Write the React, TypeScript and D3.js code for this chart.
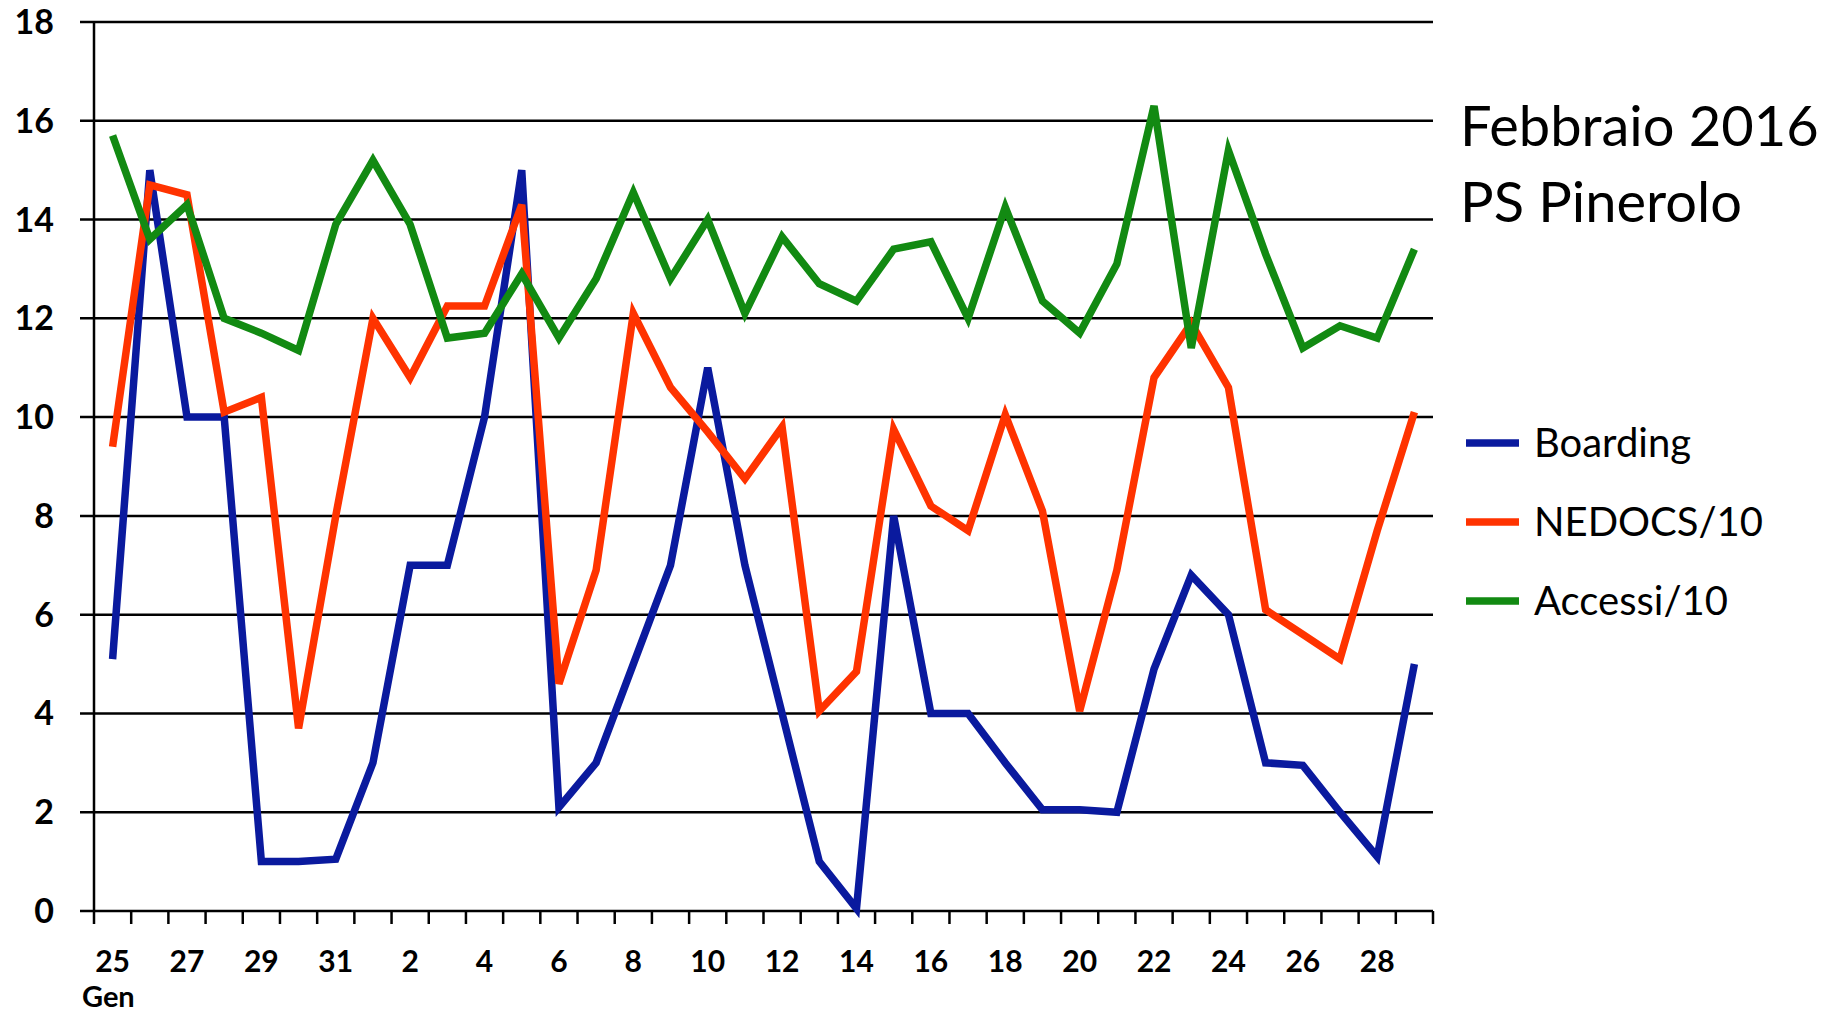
import React, { useEffect, useRef } from 'react';
import * as d3 from 'd3';

const days = ['25', '26', '27', '28', '29', '30', '31', '1', '2', '3', '4', '5', '6', '7', '8', '9', '10', '11', '12', '13', '14', '15', '16', '17', '18', '19', '20', '21', '22', '23', '24', '25', '26', '27', '28', '29'];
const boarding = [5.1, 15, 10, 10, 1, 1, 1.05, 3, 7, 7, 10, 15, 2.1, 3, 5, 7, 11, 7, 4, 1, 0.05, 8, 4, 4, 3, 2.05, 2.05, 2, 4.9, 6.8, 6, 3, 2.95, 2, 1.1, 5];
const nedocs = [9.4, 14.7, 14.5, 10.1, 10.4, 3.7, 8, 12, 10.8, 12.25, 12.25, 14.3, 4.6, 6.9, 12.1, 10.6, 9.7, 8.75, 9.8, 4.05, 4.85, 9.75, 8.2, 7.7, 10.05, 8.1, 4.05, 6.9, 10.8, 11.9, 10.6, 6.1, 5.6, 5.1, 7.7, 10.1];
const accessi = [15.7, 13.6, 14.3, 12, 11.7, 11.35, 13.9, 15.2, 13.9, 11.6, 11.7, 12.9, 11.6, 12.8, 14.55, 12.8, 14, 12.1, 13.65, 12.7, 12.35, 13.4, 13.55, 12, 14.25, 12.35, 11.7, 13.1, 16.3, 11.4, 15.4, 13.3, 11.4, 11.85, 11.6, 13.4];
const yTicks = [0, 2, 4, 6, 8, 10, 12, 14, 16, 18];

const series = [
  { name: 'Boarding', values: boarding, color: '#0a1a9e' },
  { name: 'NEDOCS/10', values: nedocs, color: '#ff3300' },
  { name: 'Accessi/10', values: accessi, color: '#128a12' },
];

const W = 1837;
const H = 1015;
const FONT = 'Lato, "Open Sans", sans-serif';

export default function App() {
  const svgRef = useRef<SVGSVGElement>(null);

  useEffect(() => {
    if (!svgRef.current) return;
    const svg = d3.select(svgRef.current);
    svg.selectAll('*').remove();

    const left = 94, right = 1433, top = 22, bottom = 911;
    const x = d3.scaleBand().domain(days.map((d, i) => String(i))).range([left, right]);
    const y = d3.scaleLinear().domain([0, 18]).range([bottom, top]);
    const cx = (i: number) => (x(String(i)) || 0) + x.bandwidth() / 2;

    // griglia orizzontale
    svg.append('g').selectAll('line').data(yTicks.filter(t => t > 0)).enter().append('line')
      .attr('x1', left - 14).attr('x2', right)
      .attr('y1', d => y(d)).attr('y2', d => y(d))
      .attr('stroke', '#000').attr('stroke-width', 2.5);

    svg.append('g').selectAll('text').data(yTicks).enter().append('text')
      .attr('x', 54).attr('y', d => Math.max(y(d) + 12, 34))
      .attr('text-anchor', 'end')
      .style('font-family', FONT).style('font-weight', 'bold').style('font-size', '34px')
      .text(d => d);

    // assi
    svg.append('line').attr('x1', left).attr('x2', left).attr('y1', top).attr('y2', bottom)
      .attr('stroke', '#000').attr('stroke-width', 2.5);
    svg.append('line').attr('x1', left - 14).attr('x2', right).attr('y1', bottom).attr('y2', bottom)
      .attr('stroke', '#000').attr('stroke-width', 2.5);
    const bounds = d3.range(days.length + 1).map(i => left + i * x.bandwidth());
    svg.append('g').selectAll('line').data(bounds).enter().append('line')
      .attr('x1', d => d).attr('x2', d => d).attr('y1', bottom).attr('y2', bottom + 13)
      .attr('stroke', '#000').attr('stroke-width', 2.5);

    svg.append('g').selectAll('text').data(days.map((d, i) => ({ d, i })).filter(o => o.i % 2 === 0)).enter().append('text')
      .attr('x', o => cx(o.i)).attr('y', 972)
      .attr('text-anchor', 'middle')
      .style('font-family', FONT).style('font-weight', 'bold').style('font-size', '30px')
      .text(o => o.d);
    svg.append('text').attr('x', 82).attr('y', 1007)
      .style('font-family', FONT).style('font-weight', 'bold').style('font-size', '29px')
      .text('Gen');

    const line = d3.line<number>().x((_, i) => cx(i)).y(v => y(v));
    series.forEach(s => {
      svg.append('path').datum(s.values).attr('d', line)
        .attr('fill', 'none').attr('stroke', s.color).attr('stroke-width', 7.5)
        .attr('stroke-linejoin', 'miter');
    });

    // legenda
    series.forEach((s, i) => {
      const ly = 443 + i * 79;
      svg.append('line').attr('x1', 1466).attr('x2', 1519).attr('y1', ly).attr('y2', ly)
        .attr('stroke', s.color).attr('stroke-width', 7.5);
      svg.append('text').attr('x', 1534).attr('y', ly + 14)
        .style('font-family', FONT).style('font-size', '40px').text(s.name);
    });

    svg.append('text').attr('x', 1460).attr('y', 146)
      .style('font-family', FONT).style('font-size', '56px').text('Febbraio 2016');
    svg.append('text').attr('x', 1460).attr('y', 222)
      .style('font-family', FONT).style('font-size', '56px').text('PS Pinerolo');
  }, []);

  return (
    <svg ref={svgRef} width={W} height={H}
      style={{ position: 'absolute', left: 0, top: 0, background: '#fff' }} />
  );
}
